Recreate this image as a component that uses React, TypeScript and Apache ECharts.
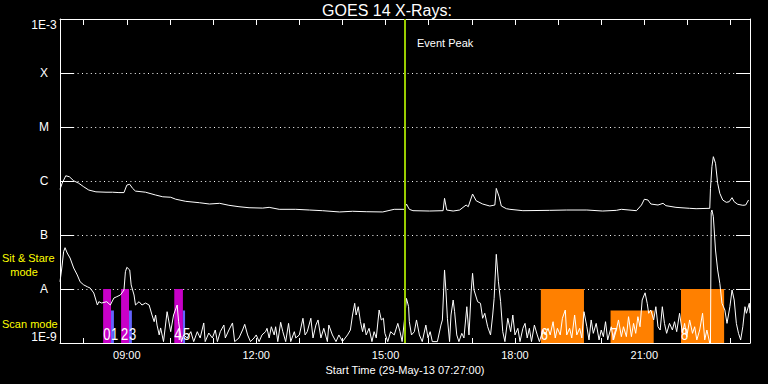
import React, { useEffect, useRef } from 'react';
import * as echarts from 'echarts';

// ---- texts ----
const chartTitle = 'GOES 14 X-Rays:';
const xAxisTitle = 'Start Time (29-May-13 07:27:00)';
const eventLabel = 'Event Peak';
const eventPeakTime = '15:27';
const startTime = '07:27';
const endTime = '23:27';

// ---- axis ticks ----
const hourTicks = [8, 9, 10, 11, 12, 13, 14, 15, 16, 17, 18, 19, 20, 21, 22, 23];
const hourLabels = [9, 12, 15, 18, 21];
const fluxMin = 1e-9;
const fluxMax = 1e-3;
const levelLabels = ['1E-9', 'A', 'B', 'C', 'M', 'X', '1E-3'];

// ---- observing modes (bars) ----
const modeStart = ['08:27', '08:38', '08:52', '09:03', '10:06', '10:18', '18:36', '20:13', '21:51'];
const modeEnd = ['08:38', '08:42', '09:03', '09:07', '10:18', '10:21', '19:36', '21:13', '22:51'];
const modeTop = [1e-8, 4e-9, 1e-8, 4e-9, 1e-8, 4e-9, 1e-8, 4e-9, 1e-8];
const modeLabels = ['0', '1', '2', '3', '4', '5', '6', '7', '8'];
const modeColors = ['#c800c8', '#6464ff', '#c800c8', '#6464ff', '#c800c8', '#6464ff', '#ff8000', '#ff8000', '#ff8000'];

// ---- long channel (1-8 A) ----
const longChannel: [string, number][] = [
  ['07:27', 7.0e-7], ['07:30', 9.1e-7], ['07:35', 1.25e-6], ['07:40', 1.2e-6], ['07:46', 1.01e-6],
  ['07:53', 9.1e-7], ['08:00', 7.8e-7], ['08:07', 6.8e-7], ['08:17', 6.3e-7], ['08:31', 6.2e-7],
  ['08:40', 6.2e-7], ['08:49', 6.1e-7], ['08:56', 6.1e-7], ['09:00', 8.4e-7], ['09:04', 8.7e-7],
  ['09:08', 7.3e-7], ['09:12', 6.5e-7], ['09:26', 6.2e-7], ['09:40', 5.5e-7], ['09:50', 5.1e-7],
  ['10:01', 5.0e-7], ['10:08', 4.6e-7], ['10:22', 4.2e-7], ['10:41', 3.96e-7], ['10:55', 3.75e-7],
  ['11:09', 3.86e-7], ['11:22', 3.55e-7], ['11:36', 3.34e-7], ['11:50', 3.2e-7], ['12:09', 3.15e-7],
  ['12:18', 3.25e-7], ['12:32', 2.99e-7], ['12:55', 2.99e-7], ['13:14', 2.9e-7], ['13:32', 2.82e-7],
  ['13:56', 2.67e-7], ['14:14', 2.75e-7], ['14:33', 2.7e-7], ['14:56', 2.67e-7], ['15:12', 2.99e-7],
  ['15:26', 2.99e-7], ['15:29', 3.75e-7], ['15:33', 2.99e-7], ['15:38', 2.82e-7], ['16:01', 2.78e-7],
  ['16:20', 2.82e-7], ['16:22', 4.78e-7], ['16:25', 2.9e-7], ['16:34', 2.78e-7], ['16:43', 2.9e-7],
  ['16:52', 3.59e-7], ['16:55', 3.34e-7], ['17:01', 5.74e-7], ['17:06', 4.31e-7], ['17:15', 3.75e-7],
  ['17:25', 3.44e-7], ['17:32', 3.59e-7], ['17:34', 7.3e-7], ['17:38', 5.1e-7], ['17:41', 3.44e-7],
  ['17:48', 3.07e-7], ['17:53', 2.99e-7], ['18:11', 2.82e-7], ['18:48', 2.86e-7], ['19:12', 2.9e-7],
  ['19:40', 2.9e-7], ['20:02', 2.78e-7], ['20:21', 2.86e-7], ['20:28', 2.99e-7], ['20:49', 2.82e-7],
  ['20:56', 3.59e-7], ['21:00', 4.59e-7], ['21:05', 4.45e-7], ['21:09', 3.75e-7], ['21:19', 3.59e-7],
  ['21:26', 3.86e-7], ['21:30', 3.49e-7], ['21:44', 3.25e-7], ['22:03', 3.12e-7], ['22:12', 3.07e-7],
  ['22:31', 3.12e-7], ['22:32', 7.3e-7], ['22:34', 1.84e-6], ['22:36', 2.82e-6], ['22:39', 2.13e-6],
  ['22:42', 9.07e-7], ['22:45', 5.9e-7], ['22:49', 4.45e-7], ['22:54', 4.03e-7], ['22:58', 4.13e-7],
  ['23:02', 4.91e-7], ['23:05', 4.13e-7], ['23:10', 3.7e-7], ['23:17', 3.55e-7], ['23:21', 3.59e-7],
  ['23:25', 4.45e-7]
];

// ---- short channel (0.5-4 A) ----
const shortChannel: [string, number][] = [
  ['07:27', 1.36e-8], ['07:30', 2.78e-8], ['07:32', 4.91e-8], ['07:34', 5.82e-8], ['07:37', 4.64e-8],
  ['07:41', 3.75e-8], ['07:46', 2.45e-8], ['07:51', 1.82e-8], ['07:55', 1.36e-8], ['08:00', 1.19e-8],
  ['08:05', 1.10e-8], ['08:09', 1.04e-8], ['08:14', 8.43e-9], ['08:19', 5.05e-9], ['08:21', 5.82e-9],
  ['08:25', 5.5e-9], ['08:32', 5.82e-9], ['08:37', 5.05e-9], ['08:42', 6.81e-9], ['08:46', 7.2e-9],
  ['08:51', 7.74e-9], ['08:56', 9.57e-9], ['08:58', 2.09e-8], ['09:00', 2.52e-8], ['09:04', 2.25e-8],
  ['09:06', 1.19e-8], ['09:10', 7.74e-9], ['09:12', 5.05e-9], ['09:17', 5.82e-9], ['09:21', 5.05e-9],
  ['09:26', 5.5e-9], ['09:31', 5.05e-9], ['09:35', 3.3e-9], ['09:38', 2.48e-9], ['09:40', 3.3e-9],
  ['09:42', 2.15e-9], ['09:45', 1.41e-9], ['09:47', 1.9e-9], ['09:51', 1.06e-9], ['09:56', 3.8e-9],
  ['10:01', 1.62e-9], ['10:05', 3.3e-9], ['10:10', 5.05e-9], ['10:12', 2.48e-9], ['10:16', 1.06e-9],
  ['10:19', 1.41e-9], ['10:24', 1.24e-9], ['10:29', 1.62e-9], ['10:33', 1.06e-9], ['10:38', 1.62e-9],
  ['10:42', 1.24e-9], ['10:47', 2.35e-9], ['10:49', 1.06e-9], ['10:54', 1.53e-9], ['10:59', 1.24e-9],
  ['11:03', 1.74e-9], ['11:06', 1.06e-9], ['11:10', 1.62e-9], ['11:15', 2.15e-9], ['11:17', 1.24e-9],
  ['11:22', 1.74e-9], ['11:27', 2.35e-9], ['11:30', 1.06e-9], ['11:36', 1.24e-9], ['11:41', 1.74e-9],
  ['11:44', 2.22e-9], ['11:48', 1.41e-9], ['11:52', 1.06e-9], ['11:57', 1.24e-9], ['12:00', 1.41e-9],
  ['12:04', 1.06e-9], ['12:08', 1.41e-9], ['12:13', 1.62e-9], ['12:15', 1.87e-9], ['12:18', 1.24e-9],
  ['12:21', 2.0e-9], ['12:25', 1.41e-9], ['12:27', 2.0e-9], ['12:30', 1.06e-9], ['12:34', 2.42e-9],
  ['12:37', 1.62e-9], ['12:41', 1.06e-9], ['12:45', 2.31e-9], ['12:48', 1.06e-9], ['12:53', 1.62e-9],
  ['12:55', 1.24e-9], ['13:00', 1.41e-9], ['13:05', 2.87e-9], ['13:08', 1.41e-9], ['13:11', 1.62e-9],
  ['13:16', 2.87e-9], ['13:19', 1.24e-9], ['13:23', 2.15e-9], ['13:26', 2.67e-9], ['13:30', 1.24e-9],
  ['13:34', 1.87e-9], ['13:39', 1.06e-9], ['13:41', 2.15e-9], ['13:46', 1.41e-9], ['13:51', 1.06e-9],
  ['13:55', 1.41e-9], ['14:00', 1.06e-9], ['14:07', 1.41e-9], ['14:11', 1.74e-9], ['14:14', 3.3e-9],
  ['14:17', 5.43e-9], ['14:19', 3.3e-9], ['14:22', 4.7e-9], ['14:25', 2.48e-9], ['14:28', 1.62e-9],
  ['14:30', 2.31e-9], ['14:33', 1.41e-9], ['14:37', 1.87e-9], ['14:41', 1.06e-9], ['14:44', 1.62e-9],
  ['14:47', 1.24e-9], ['14:51', 4.08e-9], ['14:54', 2.67e-9], ['14:57', 2.87e-9], ['14:59', 1.51e-9],
  ['15:03', 1.06e-9], ['15:07', 1.62e-9], ['15:12', 1.41e-9], ['15:17', 2.31e-9], ['15:20', 1.62e-9],
  ['15:23', 1.06e-9], ['15:26', 2.48e-9], ['15:29', 6.7e-9], ['15:32', 4.7e-9], ['15:33', 2.48e-9],
  ['15:36', 1.41e-9], ['15:40', 1.62e-9], ['15:43', 2.67e-9], ['15:47', 1.41e-9], ['15:51', 1.06e-9],
  ['15:56', 2.15e-9], ['15:59', 1.24e-9], ['16:02', 1.62e-9], ['16:05', 1.06e-9], ['16:12', 1.06e-9],
  ['16:17', 2.15e-9], ['16:19', 2.67e-9], ['16:22', 2.25e-8], ['16:24', 8.8e-9], ['16:26', 2.87e-9],
  ['16:29', 1.06e-9], ['16:31', 3.3e-9], ['16:34', 6.25e-9], ['16:36', 3.8e-9], ['16:39', 1.41e-9],
  ['16:42', 1.06e-9], ['16:46', 1.51e-9], ['16:49', 1.24e-9], ['16:53', 4.7e-9], ['16:56', 1.41e-9],
  ['16:59', 8.8e-9], ['17:01', 1.95e-8], ['17:03', 9.57e-9], ['17:08', 5.82e-9], ['17:12', 5.43e-9],
  ['17:15', 2.87e-9], ['17:18', 3.55e-9], ['17:22', 2.0e-9], ['17:26', 1.41e-9], ['17:29', 3.3e-9],
  ['17:31', 6.7e-9], ['17:34', 4.39e-8], ['17:37', 1.36e-8], ['17:40', 5.82e-9], ['17:43', 1.62e-9],
  ['17:46', 1.06e-9], ['17:50', 2.87e-9], ['17:54', 1.62e-9], ['17:57', 3.3e-9], ['18:00', 1.41e-9],
  ['18:04', 1.87e-9], ['18:07', 1.06e-9], ['18:11', 1.87e-9], ['18:14', 2.31e-9], ['18:17', 1.24e-9],
  ['18:20', 1.87e-9], ['18:23', 1.06e-9], ['18:27', 2.15e-9], ['18:31', 1.41e-9], ['18:34', 1.06e-9],
  ['18:39', 1.74e-9], ['18:42', 1.41e-9], ['18:46', 1.87e-9], ['18:49', 1.41e-9], ['18:53', 2.48e-9],
  ['18:56', 1.24e-9], ['18:59', 1.87e-9], ['19:03', 1.41e-9], ['19:06', 2.87e-9], ['19:10', 4.08e-9],
  ['19:12', 1.41e-9], ['19:16', 1.87e-9], ['19:19', 1.24e-9], ['19:23', 3.3e-9], ['19:26', 1.41e-9],
  ['19:30', 1.87e-9], ['19:33', 1.24e-9], ['19:36', 3.8e-9], ['19:40', 2.0e-9], ['19:43', 1.14e-9],
  ['19:46', 2.67e-9], ['19:49', 1.51e-9], ['19:53', 2.31e-9], ['19:57', 1.14e-9], ['20:00', 1.74e-9],
  ['20:03', 1.31e-9], ['20:06', 2.48e-9], ['20:09', 1.14e-9], ['20:14', 2.0e-9], ['20:17', 1.14e-9],
  ['20:21', 1.74e-9], ['20:24', 2.67e-9], ['20:28', 1.31e-9], ['20:31', 2.0e-9], ['20:35', 1.31e-9],
  ['20:38', 3.07e-9], ['20:42', 1.31e-9], ['20:45', 2.31e-9], ['20:48', 1.51e-9], ['20:51', 3.07e-9],
  ['20:54', 2.0e-9], ['20:57', 6.25e-9], ['21:01', 8.5e-9], ['21:04', 5.43e-9], ['21:06', 3.55e-9],
  ['21:09', 4.08e-9], ['21:13', 2.67e-9], ['21:16', 4.7e-9], ['21:19', 2.0e-9], ['21:22', 1.74e-9],
  ['21:25', 4.7e-9], ['21:28', 2.31e-9], ['21:31', 1.51e-9], ['21:35', 2.31e-9], ['21:39', 1.74e-9],
  ['21:42', 2.48e-9], ['21:45', 1.62e-9], ['21:49', 3.55e-9], ['21:53', 1.51e-9], ['21:56', 2.31e-9],
  ['21:59', 1.31e-9], ['22:03', 2.67e-9], ['22:07', 1.51e-9], ['22:10', 2.0e-9], ['22:13', 1.14e-9],
  ['22:17', 1.74e-9], ['22:21', 3.55e-9], ['22:24', 1.14e-9], ['22:27', 1.74e-9], ['22:31', 1.0e-9],
  ['22:32', 1.0e-9], ['22:33', 2.6e-7], ['22:34', 2.9e-7], ['22:36', 2.18e-7], ['22:39', 5.27e-8],
  ['22:42', 2.25e-8], ['22:45', 1.27e-8], ['22:48', 5.43e-9], ['22:52', 4.08e-9], ['22:55', 2.31e-9],
  ['22:59', 4.7e-9], ['23:02', 9.57e-9], ['23:05', 6.25e-9], ['23:08', 2.31e-9], ['23:11', 1.51e-9],
  ['23:14', 1.14e-9], ['23:17', 2.0e-9], ['23:20', 4.7e-9], ['23:22', 3.55e-9], ['23:26', 5.43e-9],
  ['23:27', 3.55e-9]
];

const toHours = (t: string) => {
  const [h, m] = t.split(':').map(Number);
  return h + m / 60;
};
const pad = (n: number) => (n < 10 ? '0' + n : '' + n);
const FONT = "'Liberation Sans', Arial, sans-serif";

export default function App() {
  const ref = useRef<HTMLDivElement>(null);

  useEffect(() => {
    if (!ref.current) return;
    const chart = echarts.init(ref.current, null, { renderer: 'svg' });

    const xMin = toHours(startTime);
    const xMax = toHours(endTime);
    const white = '#ffffff';

    const xBase = {
      type: 'value',
      min: xMin,
      max: xMax,
      splitLine: { show: false },
      axisLine: { show: true, lineStyle: { color: white, width: 1 } },
    };
    const yBase = {
      type: 'log',
      logBase: 10,
      min: fluxMin,
      max: fluxMax,
      splitNumber: 6,
      axisLine: { show: true, lineStyle: { color: white, width: 1 } },
      axisTick: { show: true, inside: true, length: 14, lineStyle: { color: white, width: 1 } },
    };

    const option: any = {
      animation: false,
      backgroundColor: '#000000',
      grid: { left: 60, right: 18, top: 19, bottom: 41, containLabel: false },
      xAxis: [
        {
          ...xBase,
          position: 'bottom',
          axisTick: { show: true, inside: true, length: 5, customValues: hourTicks, lineStyle: { color: white } },
          axisLabel: {
            show: true,
            customValues: hourLabels,
            color: white,
            fontFamily: FONT,
            fontSize: 11,
            margin: 6,
            formatter: (v: number) => pad(Math.round(v)) + ':00',
          },
          name: xAxisTitle,
          nameLocation: 'middle',
          nameGap: 18,
          nameTextStyle: { color: white, fontFamily: FONT, fontSize: 11 },
        },
        {
          ...xBase,
          position: 'top',
          axisTick: { show: true, inside: true, length: 6, customValues: hourTicks, lineStyle: { color: white } },
          axisLabel: { show: false },
        },
      ],
      yAxis: [
        {
          ...yBase,
          position: 'left',
          splitLine: { show: true, lineStyle: { color: white, width: 1, type: [1, 3.4] } },
          axisLabel: {
            show: true,
            color: white,
            fontFamily: FONT,
            fontSize: 12,
            align: 'center',
            margin: 16,
            showMinLabel: true,
            showMaxLabel: true,
            verticalAlignMinLabel: 'bottom',
            verticalAlignMaxLabel: 'top',
            formatter: (v: number) => levelLabels[Math.round(Math.log10(v)) + 9] || '',
          },
        },
        {
          ...yBase,
          position: 'right',
          splitLine: { show: false },
          axisLabel: { show: false },
        },
      ],
      graphic: [
        {
          type: 'text', x: 387, y: 10,
          style: { text: chartTitle, fill: white, fontFamily: FONT, fontSize: 16, align: 'center', verticalAlign: 'middle' },
        },
        {
          type: 'text', x: 417, y: 43,
          style: { text: eventLabel, fill: white, fontFamily: FONT, fontSize: 11, align: 'left', verticalAlign: 'middle' },
        },
        {
          type: 'text', x: 2, y: 257.5,
          style: { text: 'Sit & Stare', fill: '#ffff00', fontFamily: FONT, fontSize: 11, lineHeight: 11, align: 'left', verticalAlign: 'middle' },
        },
        {
          type: 'text', x: 24, y: 271.5,
          style: { text: 'mode', fill: '#ffff00', fontFamily: FONT, fontSize: 11, lineHeight: 11, align: 'center', verticalAlign: 'middle' },
        },
        {
          type: 'text', x: 2, y: 324,
          style: { text: 'Scan mode', fill: '#ffff00', fontFamily: FONT, fontSize: 11, align: 'left', verticalAlign: 'middle' },
        },
      ],
      series: [
        {
          type: 'custom',
          name: 'modes',
          xAxisIndex: 0,
          yAxisIndex: 0,
          z: 1,
          silent: true,
          encode: { x: [0, 1], y: 2 },
          data: modeStart.map((s, i) => [toHours(s), toHours(modeEnd[i]), modeTop[i]]),
          renderItem: (params: any, api: any) => {
            const i = params.dataIndex;
            const tl = api.coord([api.value(0), api.value(2)]);
            const br = api.coord([api.value(1), fluxMin]);
            return {
              type: 'group',
              children: [
                {
                  type: 'rect',
                  shape: { x: tl[0], y: tl[1], width: br[0] - tl[0], height: br[1] - tl[1] },
                  style: { fill: modeColors[i] },
                },
                {
                  type: 'text',
                  x: tl[0],
                  y: br[1] - 1,
                  scaleY: 1.3,
                  style: {
                    text: modeLabels[i],
                    fill: white,
                    fontFamily: FONT,
                    fontSize: 13,
                    lineHeight: 13,
                    align: 'left',
                    verticalAlign: 'bottom',
                  },
                },
              ],
            };
          },
        },
        {
          type: 'line',
          name: 'long',
          xAxisIndex: 0,
          yAxisIndex: 0,
          z: 2,
          showSymbol: false,
          silent: true,
          clip: true,
          lineStyle: { color: white, width: 1 },
          data: longChannel.map(([t, v]) => [toHours(t), v]),
          markLine: {
            silent: true,
            symbol: 'none',
            label: { show: false },
            lineStyle: { color: '#99cc00', width: 2, type: 'solid' },
            data: [{ xAxis: toHours(eventPeakTime) }],
          },
        },
        {
          type: 'line',
          name: 'short',
          xAxisIndex: 0,
          yAxisIndex: 0,
          z: 2,
          showSymbol: false,
          silent: true,
          clip: true,
          lineStyle: { color: white, width: 1 },
          data: shortChannel.map(([t, v]) => [toHours(t), v]),
        },
      ],
    };

    chart.setOption(option);
    return () => chart.dispose();
  }, []);

  return (
    <div
      ref={ref}
      style={{ position: 'absolute', left: 0, top: 0, width: 768, height: 384, background: '#000' }}
    />
  );
}
